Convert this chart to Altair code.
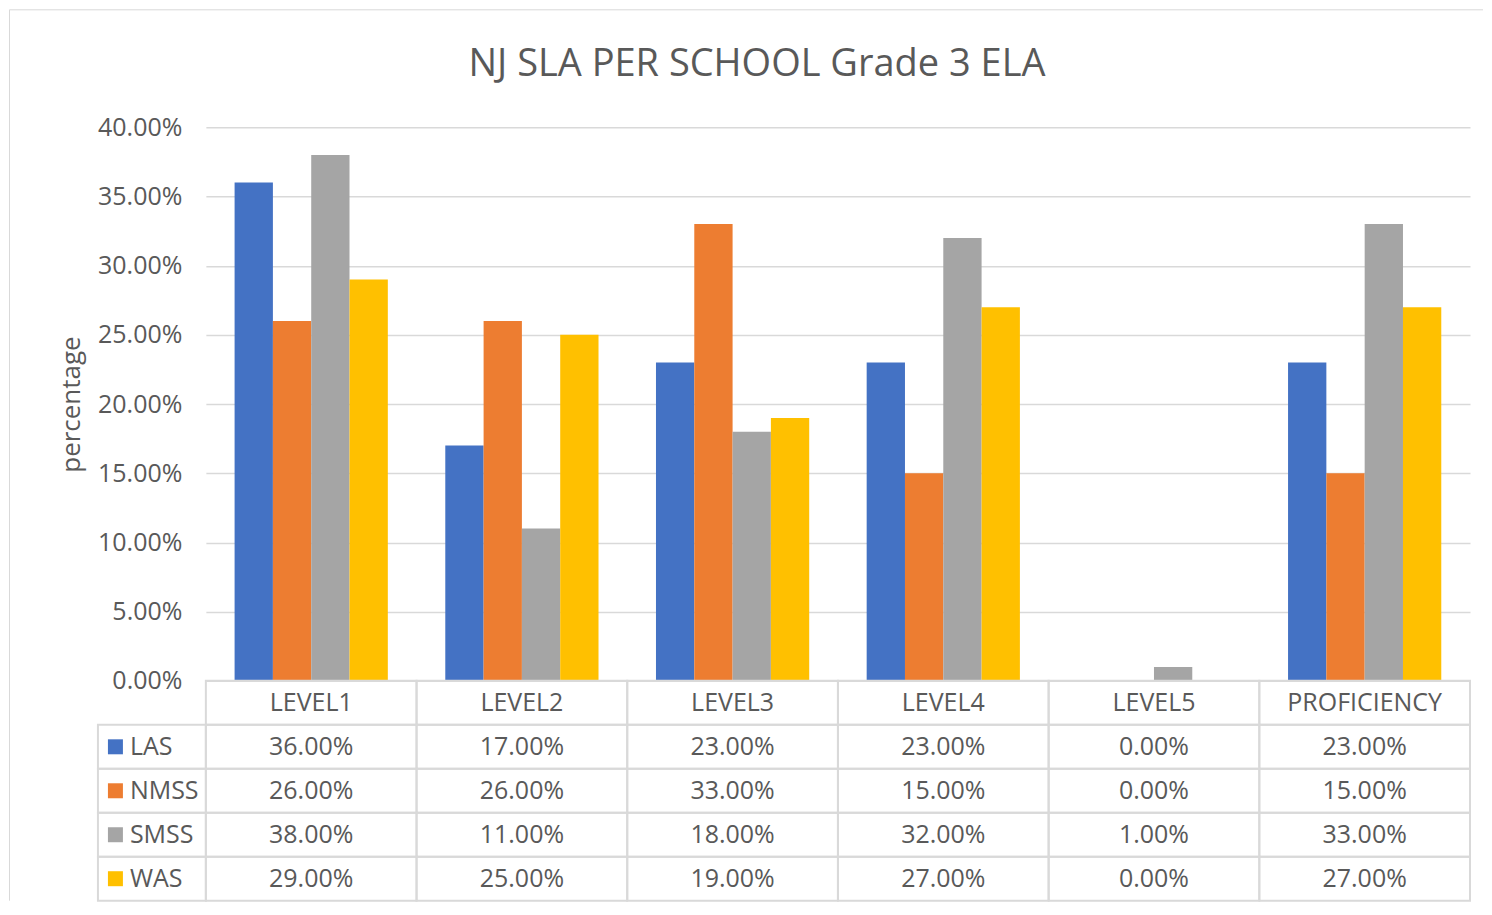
import altair as alt
import pandas as pd

categories = ["LEVEL1", "LEVEL2", "LEVEL3", "LEVEL4", "LEVEL5", "PROFICIENCY"]
series = ["LAS", "NMSS", "SMSS", "WAS"]
las = [0.36, 0.17, 0.23, 0.23, 0.00, 0.23]
nmss = [0.26, 0.26, 0.33, 0.15, 0.00, 0.15]
smss = [0.38, 0.11, 0.18, 0.32, 0.01, 0.33]
was_ = [0.29, 0.25, 0.19, 0.27, 0.00, 0.27]
colors = ["#4472C4", "#ED7D31", "#A5A5A5", "#FFC000"]
y_ticks = [0.0, 0.05, 0.10, 0.15, 0.20, 0.25, 0.30, 0.35, 0.40]
title_text = "NJ SLA PER SCHOOL Grade 3 ELA"
y_title = "percentage"

records = []
for s, vals in zip(series, [las, nmss, smss, was_]):
    for c, v in zip(categories, vals):
        records.append({"category": c, "series": s, "row": s, "value": v})
df = pd.DataFrame(records)
header = pd.DataFrame({"category": categories, "row": ["header"] * len(categories)})
legend_df = pd.DataFrame({"series": series, "row": series})
cells_df = pd.concat([header, df[["category", "row"]]], ignore_index=True)
one = pd.DataFrame({"k": [0]})

W = 1265
H1 = 554
H2 = 220
FONT = "Open Sans"
TXT = "#595959"
LINE = "#d9d9d9"
FS = 25

color = alt.Color("series:N", scale=alt.Scale(domain=series, range=colors), legend=None)

bars = alt.Chart(df).mark_bar().encode(
    x=alt.X("category:N", sort=categories,
            scale=alt.Scale(domain=categories, paddingInner=0, paddingOuter=0), axis=None),
    xOffset=alt.XOffset("series:N", sort=series,
                        scale=alt.Scale(domain=series, paddingInner=0, paddingOuter=0.75)),
    y=alt.Y("value:Q", scale=alt.Scale(domain=[0, 0.4], nice=False),
            axis=alt.Axis(values=y_ticks, format=".2%", grid=True, gridColor=LINE, gridWidth=1.5,
                          domain=False, ticks=False, labelFont=FONT, labelFontSize=FS,
                          labelColor=TXT, labelPadding=24, title=y_title, titleFont=FONT,
                          titleFontSize=26, titleColor=TXT, titleFontWeight="normal",
                          titlePadding=13)),
    color=color,
).properties(
    width=W, height=H1,
    title=alt.TitleParams(title_text, font=FONT, fontSize=38, fontWeight="normal", color=TXT,
                          anchor="middle", frame="group", dx=-81, offset=31),
)

xs = alt.X("category:N", sort=categories,
           scale=alt.Scale(domain=categories, paddingInner=0, paddingOuter=0), axis=None)
ys = alt.Y("row:N", scale=alt.Scale(domain=["header"] + series, paddingInner=0, paddingOuter=0),
           axis=None)

cells = alt.Chart(cells_df).mark_rect(fillOpacity=0, stroke=LINE, strokeWidth=2).encode(x=xs, y=ys)
legend_cells = alt.Chart(legend_df).mark_rect(fillOpacity=0, stroke=LINE, strokeWidth=2).encode(
    x=alt.value(-108), x2=alt.value(0), y=ys)
squares = alt.Chart(legend_df).mark_square(size=225, opacity=1).encode(
    x=alt.value(-90.5), y=ys, color=color)
legend_text = alt.Chart(legend_df).mark_text(
    align="left", baseline="middle", font=FONT, fontSize=FS, color=TXT).encode(
    x=alt.value(-76), y=ys, text="series:N")
header_text = alt.Chart(header).mark_text(
    align="center", baseline="middle", font=FONT, fontSize=FS, color=TXT).encode(
    x=xs, y=ys, text="category:N")
value_text = alt.Chart(df).mark_text(
    align="center", baseline="middle", font=FONT, fontSize=FS, color=TXT).encode(
    x=xs, y=ys, text=alt.Text("value:Q", format=".2%"))
border_top = alt.Chart(one).mark_rule(color=LINE, strokeWidth=1).encode(
    x=alt.value(-196.5), x2=alt.value(1278), y=alt.value(-(H1 + 117.5)))
border_left = alt.Chart(one).mark_rule(color=LINE, strokeWidth=1).encode(
    x=alt.value(-196.5), y=alt.value(-(H1 + 117.5)), y2=alt.value(H2))

table = alt.layer(cells, legend_cells, squares, legend_text, header_text, value_text,
                  border_top, border_left).properties(width=W, height=H2)

chart = alt.vconcat(bars, table, spacing=0, bounds="flush").resolve_scale(
    x="independent", y="independent"
).properties(padding=0, background="white").configure_view(stroke="transparent")

chart.save("out.html", embed_options={"renderer": "svg", "actions": False})
